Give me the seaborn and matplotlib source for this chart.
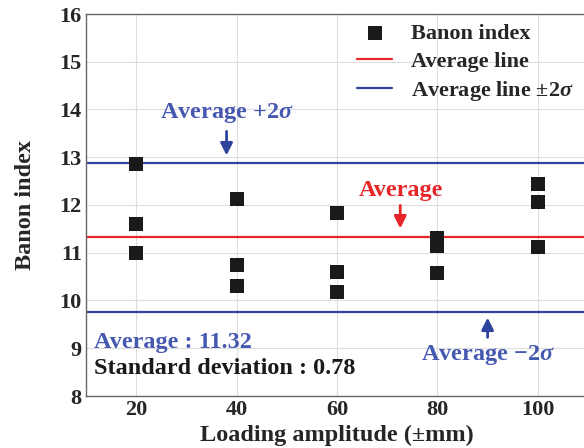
import numpy as np
import pandas as pd
import matplotlib
matplotlib.use("Agg")
import matplotlib.pyplot as plt
import seaborn as sns

amplitude = [20, 20, 20, 40, 40, 40, 60, 60, 60, 80, 80, 80, 100, 100, 100]
banon = [12.85, 11.60, 11.00, 12.12, 10.75, 10.30, 11.83, 10.60, 10.17,
         11.30, 11.15, 10.58, 12.45, 12.07, 11.12]
average = 11.32
std_dev = 0.78
x_ticks = [20, 40, 60, 80, 100]
y_ticks = [8, 9, 10, 11, 12, 13, 14, 15, 16]

sns.set_style("white")
plt.rcParams['font.family'] = ['Liberation Serif', 'DejaVu Serif']
plt.rcParams['font.weight'] = 'bold'
plt.rcParams['mathtext.fontset'] = 'custom'
plt.rcParams['mathtext.rm'] = 'Liberation Serif:bold'
plt.rcParams['mathtext.it'] = 'Liberation Serif:italic:bold'
plt.rcParams['mathtext.bf'] = 'Liberation Serif:bold'

RED = '#e8262a'
BLUE_LINE = '#2e449c'
BLUE_TXT = '#4659b0'

df = pd.DataFrame({"amp": amplitude, "banon": banon})

fig = plt.figure(figsize=(5.84, 4.48), dpi=100)
ax = fig.add_axes([86/584, 52/448, 502/584, 382/448])

ax.grid(True, color='#dddddd', linewidth=0.8)
ax.set_axisbelow(True)

sns.scatterplot(data=df, x="amp", y="banon", marker='s', s=110, color='#1a1a1a',
                edgecolor='#1a1a1a', linewidth=0, ax=ax, label='Banon index', zorder=3)
ax.axhline(average, color=RED, lw=1.6, label='Average line', zorder=2)
ax.axhline(average + 2*std_dev, color=BLUE_LINE, lw=1.6, label=r'Average line $\pm2\sigma$', zorder=2)
ax.axhline(average - 2*std_dev, color=BLUE_LINE, lw=1.6, zorder=2)

ax.set_xlim(10, 110)
ax.set_ylim(8, 16)
ax.set_xticks(x_ticks)
ax.set_yticks(y_ticks)
ax.tick_params(axis='both', labelsize=16, direction='in', length=4, color='#888888', pad=3)
for lab in ax.get_xticklabels() + ax.get_yticklabels():
    lab.set_fontweight('bold')
for sp in ax.spines.values():
    sp.set_color('#666666')
    sp.set_linewidth(1.0)

ax.set_xlabel('Loading amplitude (±mm)', fontsize=17.5, fontweight='bold', labelpad=3)
ax.set_ylabel('Banon index', fontsize=17.5, fontweight='bold', labelpad=17)

leg = ax.legend(loc='upper right', bbox_to_anchor=(1.012, 1.028), frameon=False,
                fontsize=16, handlelength=1.6, labelspacing=0.32, handletextpad=0.85)
for t in leg.get_texts():
    t.set_fontweight('bold')

arrow_kw = dict(arrowstyle='-|>', lw=2.0, mutation_scale=18)

# annotations
ax.text(38, 13.93, r'Average $+2\sigma$', color=BLUE_TXT, fontsize=17.5, fontweight='bold',
        ha='center', va='center')
ax.annotate('', xy=(38, 12.98), xytext=(38, 13.6),
            arrowprops=dict(color=BLUE_LINE, **arrow_kw))
ax.text(72.8, 12.3, 'Average', color=RED, fontsize=17.5, fontweight='bold', ha='center', va='center')
ax.annotate('', xy=(72.6, 11.45), xytext=(72.6, 12.05),
            arrowprops=dict(color=RED, **arrow_kw))
ax.text(90, 8.86, r'Average $-2\sigma$', color=BLUE_TXT, fontsize=17.5, fontweight='bold',
        ha='center', va='center')
ax.annotate('', xy=(90, 9.7), xytext=(90, 9.17),
            arrowprops=dict(color=BLUE_LINE, **arrow_kw))
ax.text(11.6, 9.13, f'Average : {average:.2f}', color=BLUE_TXT, fontsize=17.5,
        fontweight='bold', ha='left', va='center')
ax.text(11.6, 8.57, f'Standard deviation : {std_dev:.2f}', color='#1a1a1a', fontsize=17.5,
        fontweight='bold', ha='left', va='center')

fig.savefig('out.png', dpi=100)
